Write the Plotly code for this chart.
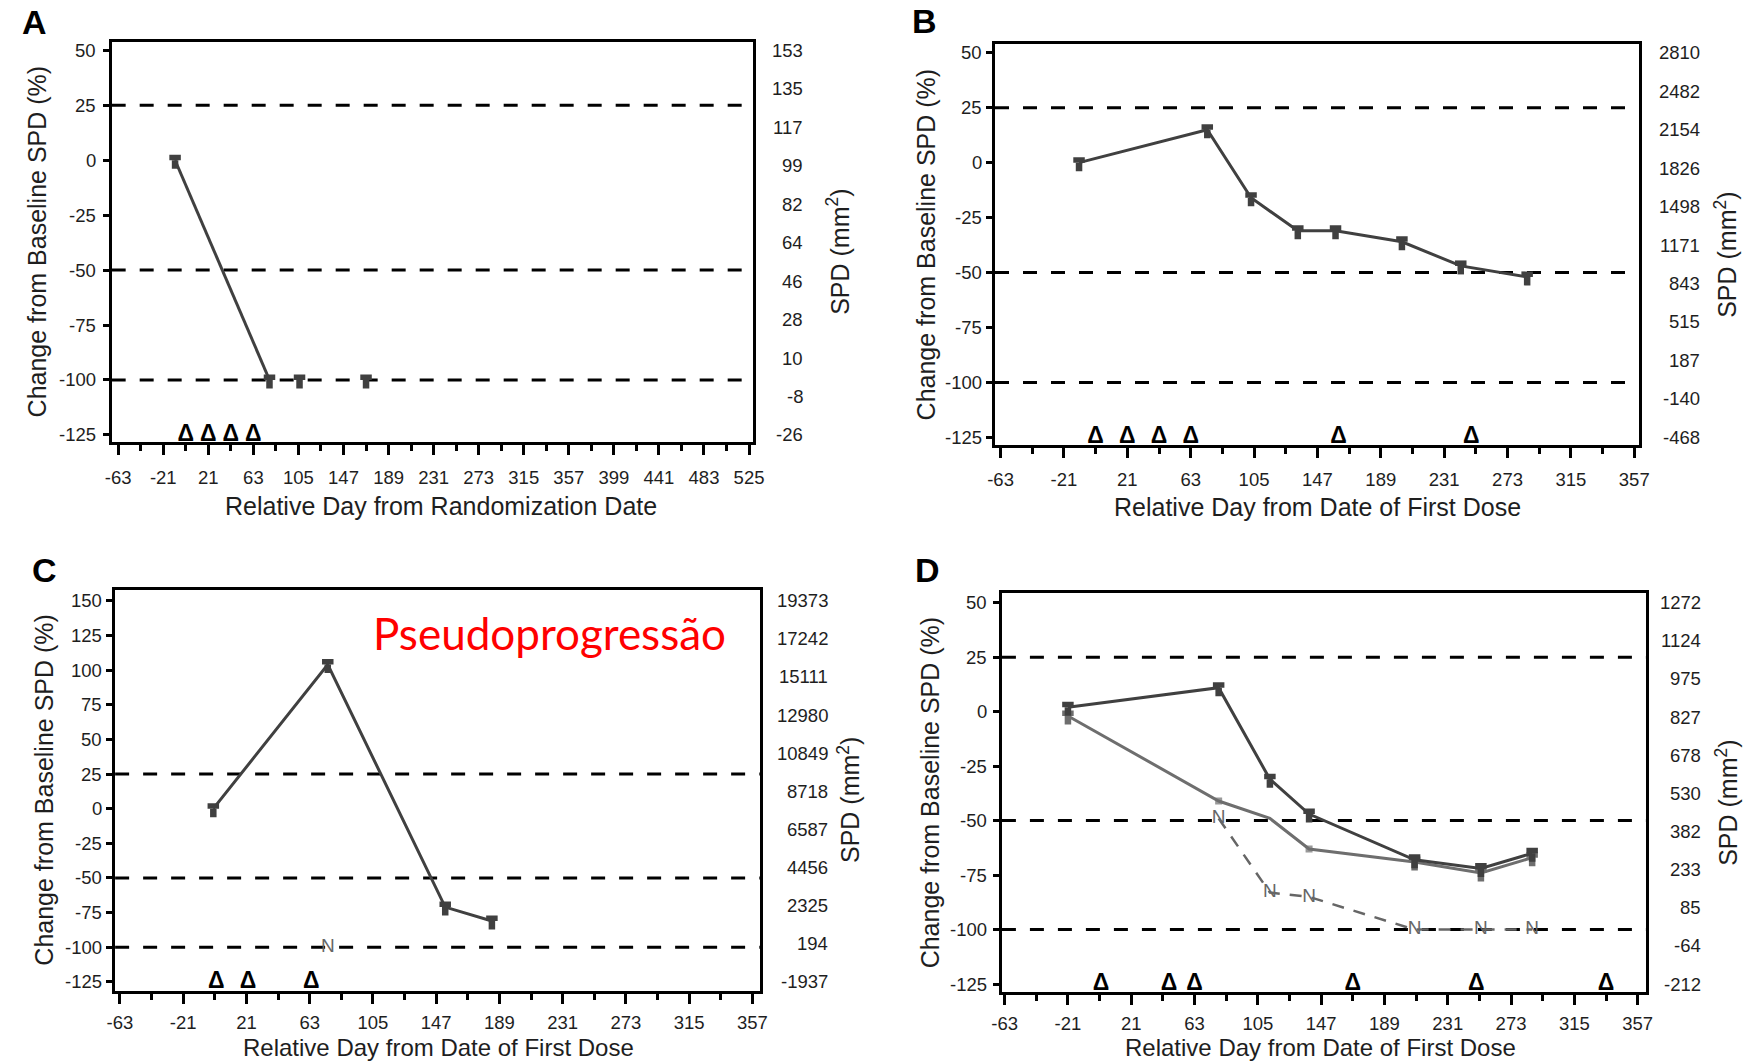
import plotly.graph_objects as go

FIG_W, FIG_H = 1764, 1061
FONT = "Liberation Sans, Arial, sans-serif"
INK = "#1e1e1e"
DARK = "#404040"
LIGHT = "#6e6e6e"
N_GREY = "#666666"

# ---------------- Panel A ----------------
a_days = [-10, 78, 106, 168]
a_pct = [0, -100, -100, -100]
a_dose_days = [0, 21, 42, 63]
a_spd_labels = ["153", "135", "117", "99", "82", "64", "46", "28", "10", "-8", "-26"]
a_day_labels = ["-63", "-21", "21", "63", "105", "147", "189", "231", "273", "315",
                "357", "399", "441", "483", "525"]
a_pct_labels = ["-125", "-100", "-75", "-50", "-25", "0", "25", "50"]

# ---------------- Panel B ----------------
b_days = [-11, 74, 103, 134, 159, 203, 242, 286]
b_pct = [0, 15, -16, -31, -31, -36, -47, -52]
b_dose_days = [0, 21, 42, 63, 161, 249]
b_spd_labels = ["2810", "2482", "2154", "1826", "1498", "1171", "843", "515", "187", "-140", "-468"]
b_day_labels = ["-63", "-21", "21", "63", "105", "147", "189", "231", "273", "315", "357"]
b_pct_labels = ["-125", "-100", "-75", "-50", "-25", "0", "25", "50"]

# ---------------- Panel C ----------------
c_days = [-1, 75, 153, 184]
c_pct = [0, 104, -71, -81]
c_new_days = [75]
c_new_pct = [-100]
c_dose_days = [1, 22, 64]
c_spd_labels = ["19373", "17242", "15111", "12980", "10849", "8718", "6587", "4456", "2325", "194", "-1937"]
c_day_labels = ["-63", "-21", "21", "63", "105", "147", "189", "231", "273", "315", "357"]
c_pct_labels = ["-125", "-100", "-75", "-50", "-25", "0", "25", "50", "75", "100", "125", "150"]

# ---------------- Panel D ----------------
d_days = [-21, 79, 113, 139, 209, 253, 287]
d_pct_1 = [2, 11, -31, -47, -68, -72, -65]
d_pct_2 = [-2, -41, -49, -63, -69, -74, -67]
d_new_days = [79, 113, 139, 209, 253, 287]
d_new_pct = [-49, -83, -85, -100, -100, -100]
d_dose_days = [1, 46, 63, 168, 250, 336]
d_spd_labels = ["1272", "1124", "975", "827", "678", "530", "382", "233", "85", "-64", "-212"]
d_day_labels = ["-63", "-21", "21", "63", "105", "147", "189", "231", "273", "315", "357"]
d_pct_labels = ["-125", "-100", "-75", "-50", "-25", "0", "25", "50"]

thresholds = [25, -50, -100]

x_title_rand = "Relative Day from Randomization Date"
x_title_dose = "Relative Day from Date of First Dose"
y_title_left = "Change from Baseline SPD (%)"
y_title_right = "SPD (mm<sup>2</sup>)"

# panel boxes in pixels: left, top, right, bottom
panels = [
    dict(letter="A", box=(102, 42, 751.5, 441.5), xr=(-69.1, 528.4), yr=(-128.0, 53.8),
         xlabels=a_day_labels, ylabels=a_pct_labels, spd=a_spd_labels,
         xtitle=x_title_rand, letter_xy=(24, 22), ltitle_x=26, rtitle_x=838,
         llab_gap=14.5, rlab_x=803, xtitle_x=436, xtitle_dy=65, xstand=7, tsize=25),
    dict(letter="B", box=(997, 44, 1649.3, 445), xr=(-66.7, 360.0), yr=(-128.5, 54.0),
         xlabels=b_day_labels, ylabels=b_pct_labels, spd=b_spd_labels,
         xtitle=x_title_dose, letter_xy=(926, 21), ltitle_x=928, rtitle_x=1738,
         llab_gap=12.5, rlab_x=1712, xtitle_x=1324, xtitle_dy=62, xstand=6, tsize=25),
    dict(letter="C", box=(105.5, 589.5, 758.7, 990.7), xr=(-66.2, 361.9), yr=(-131.3, 158.1),
         xlabels=c_day_labels, ylabels=c_pct_labels, spd=c_spd_labels,
         xtitle=x_title_dose, letter_xy=(34, 570), ltitle_x=34, rtitle_x=849,
         llab_gap=12.5, rlab_x=829, xtitle_x=433, xtitle_dy=57, xstand=3, tsize=24),
    dict(letter="D", box=(1004, 593.3, 1656.7, 991.7), xr=(-64.8, 362.6), yr=(-128.5, 54.3),
         xlabels=d_day_labels, ylabels=d_pct_labels, spd=d_spd_labels,
         xtitle=x_title_dose, letter_xy=(929, 570), ltitle_x=931, rtitle_x=1738,
         llab_gap=14, rlab_x=1713, xtitle_x=1327, xtitle_dy=56, xstand=3, tsize=24),
]

fig = go.Figure()
annotations = []
shapes = []


def px_per_unit(p):
    l, t, r, b = p["box"]
    return (b - t) / (p["yr"][1] - p["yr"][0])


def t_marks(xs, ys, xa, ya, color, ppu, show=None):
    """T-shaped scan marks: a wide cap above the value and a narrow stem below."""
    n = len(xs)
    show = show or [1] * n
    cap = go.Scatter(
        x=xs, y=ys, xaxis=xa, yaxis=ya, mode="markers",
        marker=dict(size=1, opacity=0),
        error_y=dict(type="data", symmetric=False, array=[5.5 / ppu * s for s in show],
                     arrayminus=[0] * n, thickness=11.5, width=0, color=color),
        hoverinfo="skip", showlegend=False, cliponaxis=False)
    stem = go.Scatter(
        x=xs, y=ys, xaxis=xa, yaxis=ya, mode="markers",
        marker=dict(size=1, opacity=0),
        error_y=dict(type="data", symmetric=False, array=[0] * n,
                     arrayminus=[8.5 / ppu * s for s in show], thickness=6.5, width=0,
                     color=color),
        hoverinfo="skip", showlegend=False, cliponaxis=False)
    return [cap, stem]


def line_trace(xs, ys, xa, ya, color, marker_sizes=None):
    return go.Scatter(
        x=xs, y=ys, xaxis=xa, yaxis=ya,
        mode="lines+markers" if marker_sizes else "lines",
        line=dict(color=color, width=3),
        marker=dict(symbol="square", size=marker_sizes or 0, color=color, line=dict(width=0)),
        hoverinfo="skip", showlegend=False)


def dose_trace(days, xa, ya):
    return go.Scatter(
        x=days, y=[-125] * len(days), xaxis=xa, yaxis=ya, mode="text",
        text=["Δ"] * len(days), textposition="middle center",
        textfont=dict(family=FONT, size=23, color="#000000", weight="bold"),
        hoverinfo="skip", showlegend=False, cliponaxis=False)


for i, p in enumerate(panels):
    n = i + 1
    xa = "x" if n == 1 else f"x{n}"
    ya = "y" if n == 1 else f"y{n}"
    l, t, r, b = p["box"]
    xdom = [l / FIG_W, r / FIG_W]
    ydom = [1 - b / FIG_H, 1 - t / FIG_H]

    axis_common = dict(showline=True, linecolor="#000000", linewidth=3, mirror=True,
                       ticks="outside", tickcolor="#000000", tickwidth=2.5,
                       tickfont=dict(family=FONT, size=18.5, color=INK),
                       showgrid=False, zeroline=False, fixedrange=True)

    xvals = [int(s) for s in p["xlabels"]]
    xminor = [v + 21 for v in xvals[:-1]]
    fig.layout[f"xaxis{'' if n == 1 else n}"] = dict(
        axis_common, domain=xdom, anchor=ya, range=list(p["xr"]),
        tickmode="array", tickvals=xvals, ticktext=p["xlabels"],
        ticklen=10, ticklabelstandoff=p["xstand"],
        minor=dict(tickmode="array", tickvals=xminor, ticklen=6, tickwidth=2.5,
                   tickcolor="#000000", ticks="outside"),
    )
    yvals = [int(s) for s in p["ylabels"]]
    fig.layout[f"yaxis{'' if n == 1 else n}"] = dict(
        axis_common, domain=ydom, anchor=xa, range=list(p["yr"]),
        tickmode="array", tickvals=yvals, showticklabels=False, ticklen=6,
    )
    # left-axis percentage labels, right aligned next to the ticks
    for val, lab in zip(yvals, p["ylabels"]):
        annotations.append(dict(
            x=(l - p["llab_gap"]) / FIG_W, xref="paper", y=val, yref=ya, text=lab,
            xanchor="right", yanchor="middle", showarrow=False, borderpad=0,
            font=dict(family=FONT, size=18.5, color=INK)))

    lo, hi = yvals[0], yvals[-1]
    rticks = [lo + k * (hi - lo) / 10 for k in range(11)]
    fig.layout[f"yaxis{n + 4}"] = dict(
        domain=ydom, anchor=xa, overlaying=ya, side="right", range=list(p["yr"]),
        tickmode="array", tickvals=rticks, showticklabels=False,
        ticks="outside", ticklen=6, tickwidth=2.5, tickcolor="#000000",
        showline=False, showgrid=False, zeroline=False, fixedrange=True,
    )
    # right-axis SPD labels, right aligned
    for val, lab in zip(rticks, reversed(p["spd"])):
        annotations.append(dict(
            x=p["rlab_x"] / FIG_W, xref="paper", y=val, yref=ya, text=lab,
            xanchor="right", yanchor="middle", showarrow=False, borderpad=0,
            font=dict(family=FONT, size=18.5, color=INK)))

    # response thresholds
    for th in thresholds:
        shapes.append(dict(type="line", xref=f"{xa} domain", x0=0, x1=1, yref=ya,
                           y0=th, y1=th, layer="below",
                           line=dict(color="#000000", width=3, dash="14px,14px")))

    # titles and panel letter
    yc = 1 - (t + b) / 2 / FIG_H
    annotations.append(dict(x=p["ltitle_x"] / FIG_W, y=yc, xref="paper", yref="paper",
                            text=y_title_left, textangle=-90, showarrow=False,
                            xanchor="center", yanchor="middle",
                            font=dict(family=FONT, size=25, color=INK)))
    annotations.append(dict(x=p["rtitle_x"] / FIG_W, y=1 - ((t + b) / 2 + 10) / FIG_H,
                            xref="paper", yref="paper",
                            text=y_title_right, textangle=-90, showarrow=False,
                            xanchor="center", yanchor="middle",
                            font=dict(family=FONT, size=25, color=INK)))
    annotations.append(dict(x=p["xtitle_x"] / FIG_W, y=1 - (b + p["xtitle_dy"]) / FIG_H,
                            xref="paper", yref="paper", text=p["xtitle"],
                            showarrow=False, xanchor="center", yanchor="middle",
                            borderpad=0,
                            font=dict(family=FONT, size=p["tsize"], color=INK)))
    lx, ly = p["letter_xy"]
    annotations.append(dict(x=lx / FIG_W, y=1 - ly / FIG_H, xref="paper", yref="paper",
                            text=f"<b>{p['letter']}</b>", showarrow=False,
                            xanchor="center", yanchor="middle",
                            font=dict(family=FONT, size=34, color="#000000")))

ppu = [px_per_unit(p) for p in panels]

# Panel A: line only for the first interval, later scans as isolated marks
fig.add_trace(line_trace(a_days[:2], a_pct[:2], "x", "y", DARK))
fig.add_traces(t_marks(a_days, a_pct, "x", "y", DARK, ppu[0]))
fig.add_trace(dose_trace(a_dose_days, "x", "y"))

# Panel B
fig.add_trace(line_trace(b_days, b_pct, "x2", "y2", DARK))
fig.add_traces(t_marks(b_days, b_pct, "x2", "y2", DARK, ppu[1]))
fig.add_trace(dose_trace(b_dose_days, "x2", "y2"))

# Panel C
fig.add_trace(line_trace(c_days, c_pct, "x3", "y3", DARK))
fig.add_traces(t_marks(c_days, c_pct, "x3", "y3", DARK, ppu[2]))
fig.add_trace(go.Scatter(x=c_new_days, y=c_new_pct, xaxis="x3", yaxis="y3", mode="text",
                         text=["N"] * len(c_new_days), textposition="middle center",
                         textfont=dict(family=FONT, size=19, color=N_GREY),
                         hoverinfo="skip", showlegend=False))
fig.add_trace(dose_trace(c_dose_days, "x3", "y3"))
annotations.append(dict(x=546 / FIG_W, y=1 - 633 / FIG_H, xref="paper", yref="paper",
                        text="Pseudoprogressão", showarrow=False,
                        xanchor="center", yanchor="middle",
                        font=dict(family="Lato, Carlito, Calibri, sans-serif", size=44,
                                  color="#ff0000")))

# Panel D: new-lesion track, then the two SPD tracks
fig.add_trace(go.Scatter(x=d_new_days, y=d_new_pct, xaxis="x4", yaxis="y4", mode="lines+text",
                         text=["N"] * len(d_new_days), textposition="middle center",
                         textfont=dict(family=FONT, size=19, color=N_GREY),
                         line=dict(color=N_GREY, width=2.5, dash="12px,10px"),
                         hoverinfo="skip", showlegend=False))
fig.add_trace(line_trace(d_days, d_pct_2, "x4", "y4", LIGHT,
                         marker_sizes=[0, 7, 0, 7, 0, 0, 0]))
fig.add_traces(t_marks(d_days, d_pct_2, "x4", "y4", LIGHT, ppu[3],
                       show=[1, 0, 0, 0, 1, 1, 1]))
fig.add_trace(line_trace(d_days, d_pct_1, "x4", "y4", DARK))
fig.add_traces(t_marks(d_days, d_pct_1, "x4", "y4", DARK, ppu[3]))
fig.add_trace(dose_trace(d_dose_days, "x4", "y4"))

fig.update_layout(
    width=FIG_W, height=FIG_H, margin=dict(l=0, r=0, t=0, b=0),
    paper_bgcolor="#ffffff", plot_bgcolor="#ffffff",
    showlegend=False, annotations=annotations, shapes=shapes,
    font=dict(family=FONT, color=INK),
)

fig.write_html("out.html")
